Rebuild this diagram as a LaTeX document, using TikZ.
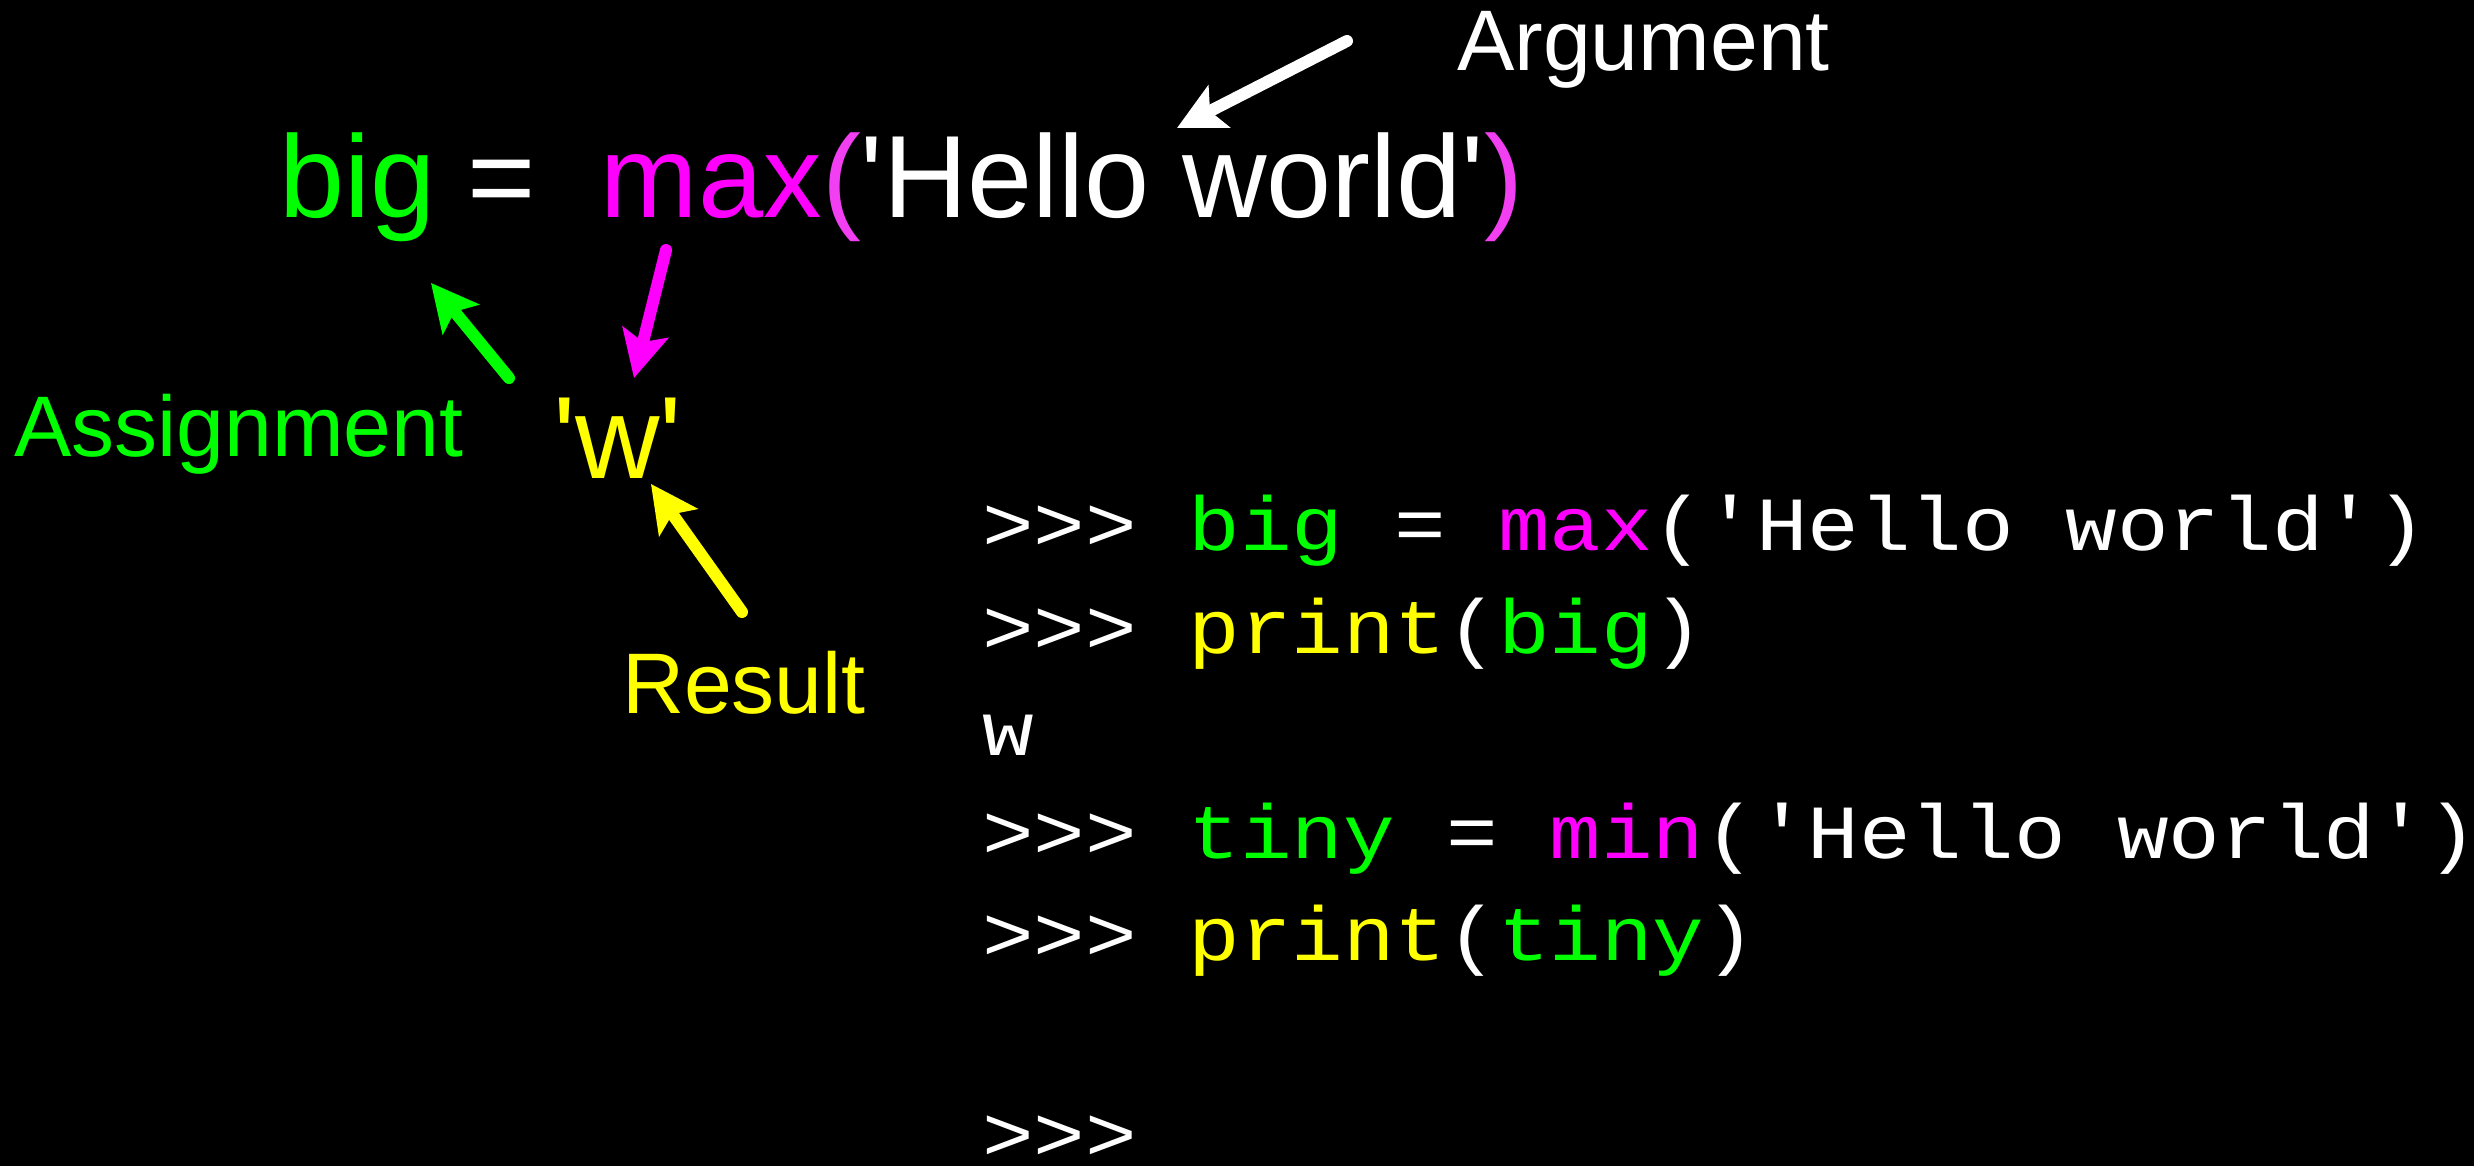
\documentclass[tikz,border=0pt]{standalone}
\usepackage{fontspec}
\usepackage{graphicx}
\setmainfont{Liberation Sans}
\newfontfamily\codefont{Liberation Mono}
\usetikzlibrary{arrows.meta}
\definecolor{cgreen}{HTML}{00FF00}
\definecolor{cmag}{HTML}{FF00FF}
\definecolor{cparen}{HTML}{F23FF2}
\definecolor{cyel}{HTML}{FFFF00}
\newcommand{\sq}{\textquotesingle}
\newcommand{\codeline}[1]{\scalebox{1}[0.89]{#1}}
\begin{document}
\begin{tikzpicture}[x=0.5pt,y=-0.5pt,
  txt/.style={anchor=base west,inner sep=0pt,outer sep=0pt,text=white},
  bigtxt/.style={txt,font=\fontsize{58.5pt}{70pt}\selectfont},
  lbl/.style={txt,font=\fontsize{43pt}{52pt}\selectfont},
  code/.style={txt,font=\codefont\fontsize{43pt}{52pt}\selectfont},
  pointer/.style={line width=6pt,line cap=round,-{Stealth[length=23.5pt,width=23.5pt,inset=5pt]}}]
\fill[black] (0,0) rectangle (2474,1166);
\useasboundingbox (0,0) rectangle (2474,1166);
% main expression
\node[bigtxt] (expr) at (279,218) {\textcolor{cgreen}{big} = \ \textcolor{cmag}{max}\textcolor{cparen}{(}\sq Hello world\sq\textcolor{cparen}{)}};
\node[bigtxt,text=cyel] (w) at (553,478) {\sq w\sq};
% labels
\node[lbl] (arg) at (1457,71) {Argument};
\node[lbl,text=cgreen] (asg) at (14,456) {Assignment};
\node[lbl,text=cyel] (res) at (622,713) {Result};
% arrow end points
\coordinate (argT) at (1347,41);  \coordinate (argH) at (1177,128);
\coordinate (asgT) at (509,378);  \coordinate (asgH) at (431,283);
\coordinate (maxT) at (666,250);  \coordinate (maxH) at (634,378);
\coordinate (resT) at (742,612);  \coordinate (resH) at (651,484);
\draw[pointer,white] (argT) -- (argH);
\draw[pointer,cgreen] (asgT) -- (asgH);
\draw[pointer,cmag] (maxT) -- (maxH);
\draw[pointer,cyel] (resT) -- (resH);
% interpreter session
\node[code] (l1) at (982,550) {\codeline{>>> \textcolor{cgreen}{big} = \textcolor{cmag}{max}('Hello world')}};
\node[code] (l2) at (982,653) {\codeline{>>> \textcolor{cyel}{print}(\textcolor{cgreen}{big})}};
\node[code] (l3) at (982,755) {\codeline{w}};
\node[code] (l4) at (982,858) {\codeline{>>> \textcolor{cgreen}{tiny} = \textcolor{cmag}{min}('Hello world')}};
\node[code] (l5) at (982,960) {\codeline{>>> \textcolor{cyel}{print}(\textcolor{cgreen}{tiny})}};
\node[code] (l6) at (982,1160) {\codeline{>>>}};
\end{tikzpicture}
\end{document}
